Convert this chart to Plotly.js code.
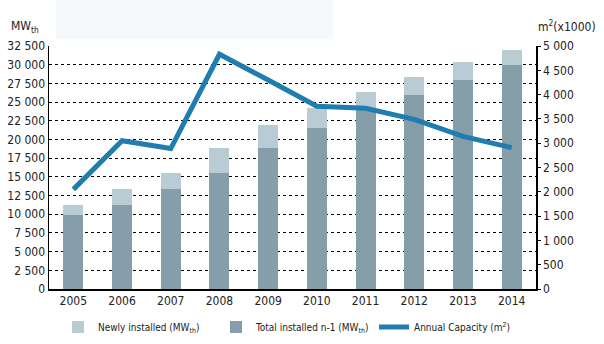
<!DOCTYPE html>
<html>
<head>
<meta charset="utf-8">
<script src="https://cdn.plot.ly/plotly-3.0.1.min.js"></script>
<style>html,body{margin:0;padding:0;background:#fff;}#chart{width:604px;height:344px;}</style>
</head>
<body>
<div id="chart"></div>
<script>
var years = ['2005','2006','2007','2008','2009','2010','2011','2012','2013','2014'];
var totalPrev = [9850, 11300, 13400, 15450, 18900, 21600, 24000, 26000, 28000, 29900];
var newlyInstalled = [1450, 2100, 2050, 3450, 3000, 2550, 2400, 2400, 2300, 2000];
var annualCapacity = [2050, 3050, 2890, 4830, 4300, 3760, 3720, 3490, 3140, 2910];

var FONT = '"DejaVu Sans Condensed", "Liberation Sans", sans-serif';

var traces = [
  {type:'bar', x:years, y:totalPrev, name:'Total installed n-1 (MW<sub>th</sub>)',
   marker:{color:'#869ea9'}, legendrank:2, hoverinfo:'y'},
  {type:'bar', x:years, y:newlyInstalled, name:'Newly installed (MW<sub>th</sub>)',
   marker:{color:'#b9cbd3'}, legendrank:1, hoverinfo:'y'},
  {type:'scatter', mode:'lines', x:years, y:annualCapacity, yaxis:'y2', legendrank:3,
   name:'Annual Capacity (m<sup>2</sup>)', line:{color:'#1f7db0', width:5}}
];

var layout = {
  width:604, height:344,
  margin:{l:49, r:68, t:46, b:55, autoexpand:false},
  paper_bgcolor:'#fff', plot_bgcolor:'#fff',
  font:{family:FONT, size:12, color:'#222'},
  separators:'. ',
  barmode:'stack', bargap:0.59,
  showlegend:true,
  legend:{orientation:'h', xref:'container', yref:'container', x:58/604, xanchor:'left',
          y:1-327/344, yanchor:'middle', traceorder:'normal', font:{size:10}, itemwidth:30,
          entrywidth:113, entrywidthmode:'pixels', bgcolor:'rgba(0,0,0,0)', tracegroupgap:0},
  xaxis:{type:'category', showline:true, linecolor:'#000', linewidth:1.5, ticks:'',
         showgrid:false, zeroline:false, tickfont:{size:12}, automargin:false},
  yaxis:{range:[0,32500], dtick:2500, tick0:0, tickformat:',', showline:true, linecolor:'#000',
         linewidth:1.5, showgrid:true, gridcolor:'#000', griddash:'dot', gridwidth:1,
         zeroline:false, ticks:'', ticklen:0, tickfont:{size:12}, automargin:false},
  yaxis2:{range:[0,5000], dtick:500, tick0:0, tickformat:',', overlaying:'y', side:'right',
          showline:true, linecolor:'#000', linewidth:1.5, showgrid:false, zeroline:false,
          ticks:'outside', ticklen:3, tickcolor:'#000', tickfont:{size:12}, automargin:false},
  shapes:[{type:'rect', xref:'paper', yref:'paper', x0:7/487, x1:284/487, y0:(289-39)/243, y1:289/243,
           fillcolor:'#f5f9fc', line:{width:0}, layer:'below'}],
  annotations:[
    {xref:'paper', yref:'paper', x:-8/487, y:(289-27)/243, xanchor:'right', yanchor:'middle',
     text:'MW<sub>th</sub>', showarrow:false, font:{size:12}},
    {xref:'paper', yref:'paper', x:1+62/487, y:(289-26)/243, xanchor:'right', yanchor:'middle',
     text:'m<sup>2</sup>(x1000)', showarrow:false, font:{size:12}}
  ]
};

Plotly.newPlot('chart', traces, layout, {displayModeBar:false, staticPlot:true});
</script>
</body>
</html>
